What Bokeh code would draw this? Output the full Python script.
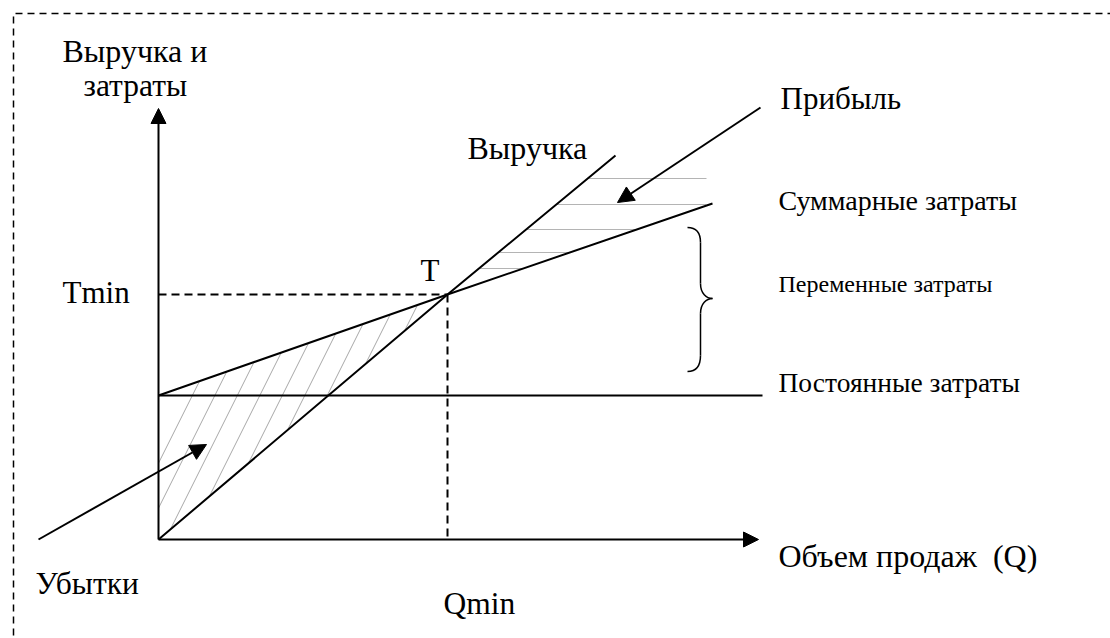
import numpy as np
from bokeh.plotting import figure
from bokeh.models import Range1d, Arrow, NormalHead, Label
from bokeh.embed import file_html
from bokeh.resources import INLINE

# ---- data (conceptual units: sales volume Q vs money) ----
q_revenue = [0, 289, 457]
revenue = [0, 245, 384]
q_total_cost = [0, 289, 554]
total_cost = [144, 245, 336]
q_fixed = [0, 604]
fixed_cost = [144, 144]
q_min = 289
t_min = 245
x_axis_end = 600
y_axis_end = 431
profit_hatch_levels = [361, 335, 310, 287, 271]

FONT = "Liberation Serif"

p = figure(width=1110, height=638,
           x_range=Range1d(-158, 952), y_range=Range1d(-99, 539),
           output_backend="svg", toolbar_location=None,
           x_axis_type=None, y_axis_type=None, min_border=0)
p.outline_line_color = None
p.grid.visible = False
p.background_fill_color = "white"
p.border_fill_color = "white"

# dashed frame
p.line([-145, -145, 990], [-120, 526, 526], line_color="black",
       line_width=1.5, line_dash="7 5")

# hatching in loss area (slope-2 lines between revenue and total cost)
def C(x):
    return np.interp(x, q_total_cost, total_cost)

slope_r = revenue[1] / q_revenue[1]
hx0, hy0, hx1, hy1 = [], [], [], []
for t in np.arange(41, 262, 27.25):
    yt = C(t)
    xb = (2 * t - yt) / (2 - slope_r)
    if xb < 0:
        xb = 0.0
    yb = yt - 2 * (t - xb)
    hx0.append(xb); hy0.append(yb); hx1.append(t); hy1.append(yt)
p.segment(hx0, hy0, hx1, hy1, line_color="#a8a8a8", line_width=1)

# hatching in profit area (horizontal lines)
px0, px1 = [], []
for lv in profit_hatch_levels:
    px0.append(float(np.interp(lv, revenue, q_revenue)))
    px1.append(min(float(np.interp(lv, total_cost, q_total_cost)), 548.0))
p.segment(px0, profit_hatch_levels, px1, profit_hatch_levels,
          line_color="#b4b4b4", line_width=1)

# main lines
p.line(q_fixed, fixed_cost, line_color="black", line_width=2)
p.line(q_total_cost, total_cost, line_color="black", line_width=2)
p.line(q_revenue, revenue, line_color="black", line_width=2)

# break-even dashed guides
p.line([0, q_min], [t_min, t_min], line_color="black", line_width=2, line_dash="8 5")
p.line([q_min, q_min], [t_min, 0], line_color="black", line_width=2, line_dash="8 5")

# axes with arrows
def arrow(x0, y0, x1, y1, size=15, lw=2):
    p.add_layout(Arrow(end=NormalHead(size=size, fill_color="black", line_color="black"),
                       x_start=x0, y_start=y0, x_end=x1, y_end=y1,
                       line_color="black", line_width=lw))

arrow(0, 0, 0, y_axis_end)
arrow(0, 0, x_axis_end, 0)
# pointer arrows
arrow(602, 432, 459, 337, size=16)
arrow(-120, 0, 48, 95, size=16)

# brace
bx0 = [529, 542, 554, 542]
by0 = [312, 256, 241, 184]
bx1 = [542, 554, 542, 529]
by1 = [297, 241, 226, 168]
bcx0 = [538, 542, 548, 542]
bcy0 = [312, 246, 241, 174]
bcx1 = [542, 548, 542, 538]
bcy1 = [306, 241, 236, 168]
p.bezier(bx0, by0, bx1, by1, bcx0, bcy0, bcx1, bcy1, line_color="black", line_width=1.5)
p.segment([542, 542], [297, 226], [542, 542], [256, 184], line_color="black", line_width=1.5)

# labels (x = image_x - 158, y = 539 - image_baseline)
labels = [
    ("Выручка и", 62, 50, 32),
    ("затраты", 83, 85, 31.5),
    ("Прибыль", 780, 98, 31),
    ("Выручка", 467, 147, 32),
    ("Суммарные затраты", 778, 200, 28),
    ("Переменные затраты", 778, 283, 24),
    ("Постоянные затраты", 778, 382, 27.5),
    ("T", 420, 270, 31),
    ("Tmin", 62, 292, 31),
    ("Убытки", 35, 583, 31.5),
    ("Qmin", 443, 603, 31.5),
    ("Объем продаж\u00a0 (Q)", 778, 555, 32),
]
for txt, ix, iy, fs in labels:
    p.add_layout(Label(x=ix - 158, y=539 - iy, text=txt, text_font=FONT,
                       text_font_size=f"{fs}px", text_color="black",
                       text_align="left", text_baseline="alphabetic"))

open("out.html", "w").write(file_html(p, INLINE))
